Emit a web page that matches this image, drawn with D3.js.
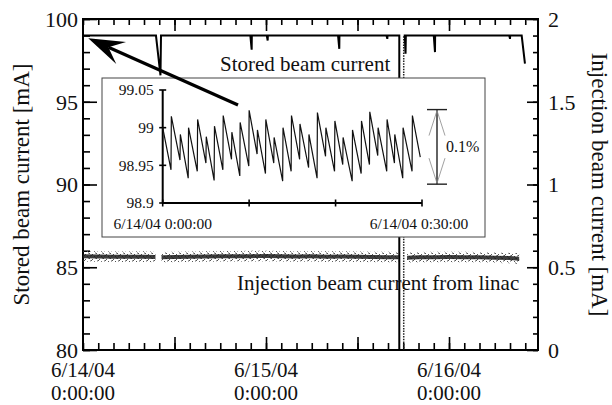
<!DOCTYPE html>
<html><head><meta charset="utf-8">
<script src="https://cdn.jsdelivr.net/npm/d3@7"></script>
<style>
body{margin:0;background:#fff}
svg{display:block}
text{font-family:"Liberation Serif","Times New Roman",serif;fill:#111}
</style>
</head><body>
<svg id="c" width="612" height="405"></svg>
<script>
// ---------------- data ----------------
// main chart: time in hours since 6/14/04 0:00:00
const xDomainHours = [0, 59.67];
const leftTickMajor = [80, 85, 90, 95, 100];
const rightTickMajor = [0, 0.5, 1, 1.5, 2];
const xLabelHours = [0, 24, 48];
const xLabelLine1 = ["6/14/04","6/15/04","6/16/04"];
const xLabelLine2 = ["0:00:00","0:00:00","0:00:00"];

// stored beam current [mA]: before beam loss
const storedBefore = [
  [0,99.0],[9.57,99.0],[10.16,96.6],[10.23,99.0],
  [21.95,99.0],[22.12,98.15],[22.14,99.0],
  [24.10,99.0],[24.22,98.7],[24.24,99.0],
  [33.45,99.0],[33.61,98.2],[33.63,99.0],
  [39.80,99.0],[39.91,98.8],[39.93,99.0],
  [41.48,99.0],[41.48,0]
];
// refill (drawn dotted)
const storedRefill = [[42.06,0],[42.06,99.0]];
// after refill
const storedAfter = [
  [42.06,99.0],[42.20,99.0],[42.30,97.9],[42.34,99.0],
  [46.00,99.0],[46.16,98.0],[46.18,99.0],
  [55.90,99.0],[56.00,98.8],[56.02,99.0],
  [57.53,99.0],[57.96,97.3]
];

// injection beam current from linac [mA] (mean of the band), segments
const injSeg1T = [0,2,4,6,8,9.5];
const injSeg1V = [0.566,0.565,0.563,0.563,0.564,0.562];
const injSeg2T = [10.3,12,14,16,18,20,22,24,26,28,30,32,34,36,38,40,41.4];
const injSeg2V = [0.560,0.562,0.563,0.565,0.566,0.566,0.567,0.568,0.566,0.565,0.566,0.564,0.565,0.563,0.562,0.561,0.560];
const injSeg3T = [42.5,44,46,48,50,52,54,56,57.2];
const injSeg3V = [0.558,0.560,0.561,0.562,0.561,0.560,0.558,0.556,0.552];
const injSpreadOuter = 0.032;
const injSpreadCore = 0.012;

// inset: minutes after 6/14/04 0:00:00
const insetYTicks = [98.9, 98.95, 99, 99.05];
const insetXTicks = [0, 10, 20, 30];
const insetStart = [0, 99.0];
const insetRiseMin = [0.96,2.0,2.95,4.0,5.0,5.95,6.96,7.96,8.92,9.96,10.92,11.89,12.85,13.88,14.86,15.84,16.88,17.86,18.84,19.88,20.83,21.92,22.96,23.92,24.88,25.92,26.81,27.77,28.85];
const insetValley = [98.944,98.957,98.933,98.942,98.953,98.930,98.944,98.958,98.936,98.949,98.965,98.939,98.953,98.929,98.942,98.958,98.947,98.933,98.962,98.942,98.951,98.929,98.939,98.951,98.963,98.942,98.953,98.933,98.942];
const insetPeak = [99.015,98.991,99.000,99.011,98.988,99.002,99.016,98.994,99.007,99.023,98.997,99.011,98.987,99.000,99.016,99.005,98.991,99.020,99.000,99.009,98.987,98.997,99.009,99.021,99.000,99.011,98.991,99.000,99.016];
const insetEnd = [29.8, 98.961];
const pctTop = 99.024, pctBottom = 98.925;

// ---------------- drawing ----------------
const svg = d3.select("#c");
const L=83, R=538, T=19, B=350;
const x = d3.scaleLinear().domain(xDomainHours).range([L,R]);
const yL = d3.scaleLinear().domain([80,100]).range([B,T]);
const yR = d3.scaleLinear().domain([0,2]).range([B,T]);

const defs = svg.append("defs");
defs.append("clipPath").attr("id","plot").append("rect")
  .attr("x",L).attr("y",T).attr("width",R-L).attr("height",B-T);
const pat = defs.append("pattern").attr("id","stip").attr("patternUnits","userSpaceOnUse")
  .attr("width",7).attr("height",5);
[[0,0],[3,1],[5,3],[1,4],[4,2.5],[6,0.5]].forEach(p=>
  pat.append("rect").attr("x",p[0]).attr("y",p[1]).attr("width",1).attr("height",1).attr("fill","#555"));

// axes
function styleAxis(g){ g.select(".domain").remove(); g.selectAll("line").attr("stroke","#000").attr("stroke-width",1.6); }
const fs = "22px";
svg.append("g").attr("transform",`translate(${L},0)`)
  .call(d3.axisLeft(yL).tickValues(d3.range(80,101,1)).tickSize(-7).tickFormat(""))
  .call(styleAxis);
svg.append("g").attr("transform",`translate(${L},0)`)
  .call(d3.axisLeft(yL).tickValues(leftTickMajor).tickSize(-14).tickPadding(5).tickFormat(d3.format("d")))
  .call(styleAxis).selectAll("text").style("font-size",fs).attr("dy","0.34em");
svg.append("g").attr("transform",`translate(${R},0)`)
  .call(d3.axisRight(yR).tickValues(d3.range(0,2.01,0.1)).tickSize(-5).tickFormat(""))
  .call(styleAxis);
svg.append("g").attr("transform",`translate(${R},0)`)
  .call(d3.axisRight(yR).tickValues(rightTickMajor).tickSize(-11).tickPadding(10).tickFormat(d=>String(d)))
  .call(styleAxis).selectAll("text").style("font-size",fs).attr("dy","0.34em");
const minorH = d3.range(0,59,2);
const majorH = [12,24,36,48];
svg.append("g").attr("transform",`translate(0,${B})`)
  .call(d3.axisBottom(x).tickValues(minorH).tickSize(-7).tickFormat("")).call(styleAxis);
svg.append("g").attr("transform",`translate(0,${B})`)
  .call(d3.axisBottom(x).tickValues(majorH).tickSize(-13).tickFormat("")).call(styleAxis);
svg.append("g").attr("transform",`translate(0,${T})`)
  .call(d3.axisTop(x).tickValues(minorH).tickSize(-6).tickFormat("")).call(styleAxis);
svg.append("g").attr("transform",`translate(0,${T})`)
  .call(d3.axisTop(x).tickValues(majorH).tickSize(-12).tickFormat("")).call(styleAxis);
// x labels (two separate lines)
svg.append("g").selectAll("text").data(xLabelHours).join("text")
  .attr("x",d=>x(d)).attr("y",B+27).attr("text-anchor","middle").style("font-size","21px")
  .text((d,i)=>xLabelLine1[i]);
svg.append("g").selectAll("text").data(xLabelHours).join("text")
  .attr("x",d=>x(d)).attr("y",B+50).attr("text-anchor","middle").style("font-size","21px")
  .text((d,i)=>xLabelLine2[i]);
// frame
svg.append("rect").attr("x",L).attr("y",T).attr("width",R-L).attr("height",B-T)
  .attr("fill","none").attr("stroke","#000").attr("stroke-width",2);

// axis titles
svg.append("text").attr("transform",`translate(29,${(T+B)/2}) rotate(-90)`)
  .attr("text-anchor","middle").style("font-size","23px").text("Stored beam current [mA]");
svg.append("text").attr("transform",`translate(592,${(T+B)/2}) rotate(90)`)
  .attr("text-anchor","middle").style("font-size","23px").text("Injection beam current [mA]");

const plot = svg.append("g").attr("clip-path","url(#plot)");
// injection band
[[injSeg1T,injSeg1V],[injSeg2T,injSeg2V],[injSeg3T,injSeg3V]].forEach(([ts,vs])=>{
  const pts = ts.map((t,i)=>[t,vs[i]]);
  plot.append("path").datum(pts).attr("fill","url(#stip)")
    .attr("d",d3.area().x(d=>x(d[0])).y0(d=>yR(d[1]-injSpreadOuter)).y1(d=>yR(d[1]+injSpreadOuter)));
  plot.append("path").datum(pts).attr("fill","#1a1a1a").attr("opacity",0.85)
    .attr("d",d3.area().x(d=>x(d[0])).y0(d=>yR(d[1]-injSpreadCore)).y1(d=>yR(d[1]+injSpreadCore)));
});
// stored current
const lineS = d3.line().x(d=>x(d[0])).y(d=>yL(d[1]));
plot.append("path").datum(storedBefore).attr("fill","none").attr("stroke","#000").attr("stroke-width",2).attr("d",lineS);
plot.append("path").datum(storedRefill).attr("fill","none").attr("stroke","#222").attr("stroke-width",1.5)
  .attr("stroke-dasharray","1.5,1.2").attr("d",lineS);
plot.append("path").datum(storedAfter).attr("fill","none").attr("stroke","#000").attr("stroke-width",2).attr("d",lineS);

// annotations
svg.append("text").attr("x",220).attr("y",71).style("font-size","21px").text("Stored beam current");
svg.append("text").attr("x",237).attr("y",290).style("font-size","21px").text("Injection beam current from linac");

// ---------------- inset ----------------
const IL=102, IT=78, IR=485, IB=237;
svg.append("rect").attr("x",IL).attr("y",IT).attr("width",IR-IL).attr("height",IB-IT)
  .attr("fill","#fff").attr("stroke","#444").attr("stroke-width",1);
const ix = d3.scaleLinear().domain([0,30]).range([162.7,422]);
const iy = d3.scaleLinear().domain([98.9,99.05]).range([203,90]);
const ifs = "15.5px";
svg.append("line").attr("x1",ix(0)).attr("x2",ix(0)).attr("y1",iy(99.05)).attr("y2",iy(98.9)).attr("stroke","#000").attr("stroke-width",2);
svg.append("line").attr("x1",ix(0)).attr("x2",ix(30)).attr("y1",iy(98.9)).attr("y2",iy(98.9)).attr("stroke","#000").attr("stroke-width",2);
const gy = svg.append("g");
gy.selectAll("line").data(insetYTicks).join("line")
  .attr("x1",ix(0)-3.5).attr("x2",ix(0)+3.5).attr("y1",d=>iy(d)).attr("y2",d=>iy(d)).attr("stroke","#000").attr("stroke-width",1.6);
gy.selectAll("text").data(insetYTicks).join("text")
  .attr("x",ix(0)-9).attr("y",d=>iy(d)).attr("dy","0.34em").attr("text-anchor","end").style("font-size",ifs)
  .text(d=>String(d));
svg.append("g").selectAll("line").data(insetXTicks).join("line")
  .attr("x1",d=>ix(d)).attr("x2",d=>ix(d)).attr("y1",iy(98.9)-3.5).attr("y2",iy(98.9)+3.5).attr("stroke","#000").attr("stroke-width",1.6);
svg.append("text").attr("x",ix(0)).attr("y",229).attr("text-anchor","middle").style("font-size",ifs).text("6/14/04 0:00:00");
svg.append("text").attr("x",ix(30)-3).attr("y",229).attr("text-anchor","middle").style("font-size",ifs).text("6/14/04 0:30:00");
// sawtooth
const ipts = [insetStart];
insetRiseMin.forEach((t,i)=>{ ipts.push([t,insetValley[i]]); ipts.push([t+0.04,insetPeak[i]]); });
ipts.push(insetEnd);
svg.append("path").datum(ipts).attr("fill","none").attr("stroke","#111").attr("stroke-width",1.2)
  .attr("stroke-linejoin","miter")
  .attr("d",d3.line().x(d=>ix(d[0])).y(d=>iy(d[1])));
// 0.1% marker
const px = 437, yt = iy(pctTop), yb = iy(pctBottom);
svg.append("line").attr("x1",px).attr("x2",px).attr("y1",yt).attr("y2",yb).attr("stroke","#222").attr("stroke-width",1.4);
[[yt,1],[yb,-1]].forEach(([yy,s])=>{
  svg.append("line").attr("x1",px-10).attr("x2",px+10).attr("y1",yy).attr("y2",yy).attr("stroke","#222").attr("stroke-width",1.4);
  svg.append("path").attr("d",`M${px-8},${yy+s*26} L${px},${yy+s*1} L${px+8},${yy+s*26}`)
    .attr("fill","none").attr("stroke","#888").attr("stroke-width",0.8);
});
svg.append("text").attr("x",446).attr("y",(yt+yb)/2+5).style("font-size","16px").text("0.1%");

// ---------------- arrow ----------------
const tail = [20.33, 94.8], tip = [0.69, 98.83];
const tx = x(tail[0]), ty = yL(tail[1]), hx = x(tip[0]), hy = yL(tip[1]);
const ang = Math.atan2(ty-hy, tx-hx);
const ux = Math.cos(ang), uy = Math.sin(ang), nx = -uy, ny = ux;
const hl = 36, hw = 12, notch = 22;
svg.append("line").attr("x1",tx).attr("y1",ty).attr("x2",hx+ux*notch).attr("y2",hy+uy*notch)
  .attr("stroke","#000").attr("stroke-width",3.2);
svg.append("path").attr("fill","#000").attr("d",
  `M${hx},${hy} L${hx+ux*hl+nx*hw},${hy+uy*hl+ny*hw} L${hx+ux*notch},${hy+uy*notch} L${hx+ux*hl-nx*hw},${hy+uy*hl-ny*hw} Z`);
</script>
</body></html>
